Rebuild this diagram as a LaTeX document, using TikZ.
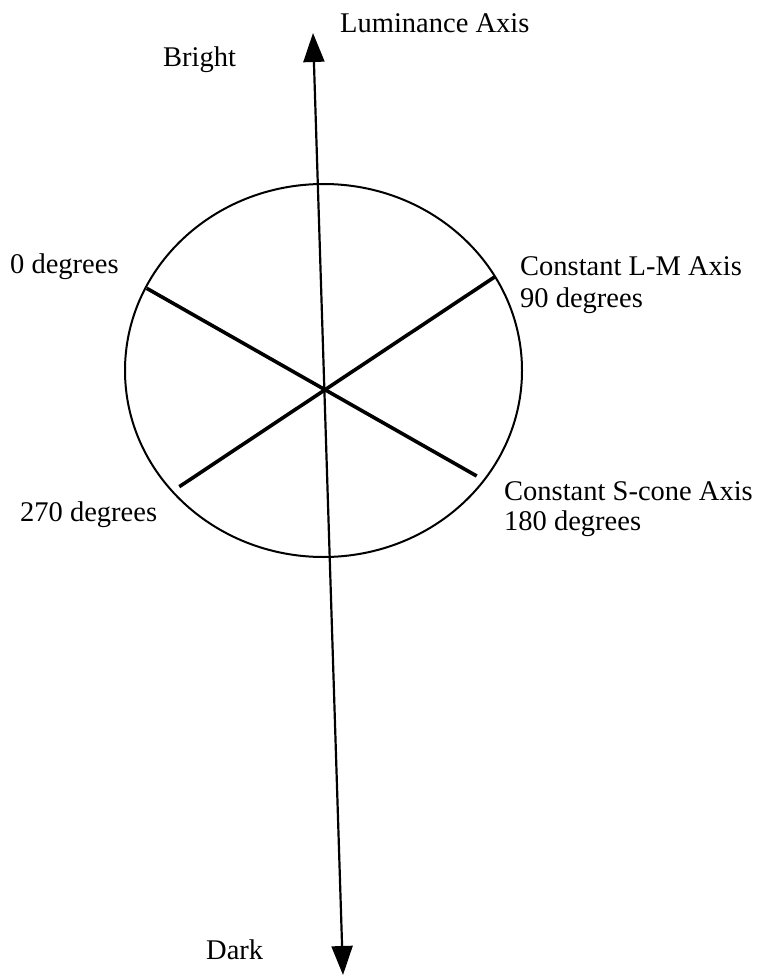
\documentclass[tikz,border=0pt]{standalone}
\usepackage{fontspec}
\setmainfont{Liberation Serif}
\usetikzlibrary{arrows.meta}
\tikzset{
  lbl/.style={anchor=base west, inner sep=0pt, font=\fontsize{28.5}{32}\selectfont},
  axisline/.style={line width=2.2pt, {Triangle[length=29pt,width=21pt]}-{Triangle[length=29pt,width=21pt]}},
  rim/.style={line width=2pt},
  diam/.style={line width=3.6pt}
}
\begin{document}
\begin{tikzpicture}[x=1pt,y=-1pt]
\useasboundingbox (0,0) rectangle (765,976);
% ellipse
\draw[rim] (323.5,370.5) ellipse [x radius=198.5, y radius=186.5];
% diameters
\coordinate (a1) at (146.7,288.3);
\coordinate (a2) at (476.7,476);
\coordinate (b1) at (495,276.7);
\coordinate (b2) at (179.3,486.7);
\draw[diam] (a1) -- (a2);
\draw[diam] (b1) -- (b2);
% luminance axis
\coordinate (top) at (313,33);
\coordinate (bot) at (343,975);
\draw[axisline] (bot) -- (top);
% labels
\node[lbl] (lum) at (340,33) {Luminance Axis};
\node[lbl] (bright) at (163,67) {Bright};
\node[lbl] (zero) at (10,273) {0 degrees};
\node[lbl] (lm) at (520,275) {Constant L-M Axis};
\node[lbl] (ninety) at (520,307) {90 degrees};
\node[lbl] (scone) at (504,500) {Constant S-cone Axis};
\node[lbl] (oneeighty) at (504,530) {180 degrees};
\node[lbl] (twoseventy) at (20,521) {270 degrees};
\node[lbl] (dark) at (206,959) {Dark};
\end{tikzpicture}
\end{document}
